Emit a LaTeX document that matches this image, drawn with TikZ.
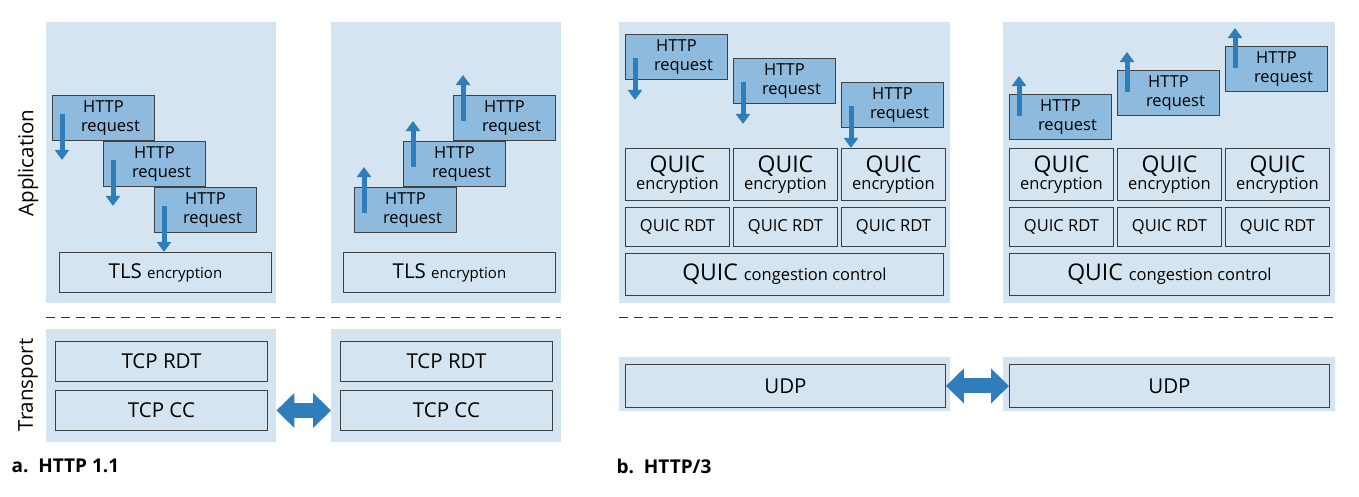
\documentclass[tikz,border=0pt]{standalone}
\usepackage{fontspec}
\setmainfont{Open Sans}
\usetikzlibrary{arrows.meta,calc}
\definecolor{panelbg}{HTML}{D4E4F0}
\definecolor{reqbg}{HTML}{8DBADD}
\definecolor{arrowblue}{HTML}{2F7DBA}
\tikzset{
  panel/.style={fill=panelbg, draw=none, anchor=north west, inner sep=0},
  layer/.style={draw=black!75, line width=0.9pt, fill=panelbg, anchor=north west, inner sep=0, align=center},
  req/.style={draw=black!75, line width=0.9pt, fill=reqbg, anchor=north west, inner sep=0,
    minimum width=102pt, minimum height=45pt, align=center, font=\fontsize{16.5}{19}\selectfont},
  quic/.style={layer, minimum width=104pt, minimum height=52pt, font=\fontsize{23}{21}\selectfont},
  rdt/.style={layer, minimum width=104pt, minimum height=39pt, font=\fontsize{16.5}{18}\selectfont},
  big/.style={layer, font=\fontsize{20.5}{22}\selectfont},
  flow/.style={arrowblue, line width=5pt, -{Triangle[width=14pt,length=10pt]}},
  link/.style={arrowblue, line width=15pt, {Triangle[width=34pt,length=18pt]}-{Triangle[width=34pt,length=18pt]}},
  sep/.style={dashed, dash pattern=on 9pt off 6pt, line width=1pt, black!80}
}
\newcommand{\reqtext}{HTTP\\\hspace*{14pt}request}
\begin{document}
\begin{tikzpicture}[x=1pt,y=-1pt]
  \useasboundingbox (0,0) rectangle (1359,496);

  % panels
  \node[panel, minimum width=230pt, minimum height=281pt] (appa) at (46,22) {};
  \node[panel, minimum width=230pt, minimum height=281pt] (appb) at (331,22) {};
  \node[panel, minimum width=230pt, minimum height=113pt] (tra) at (46,329) {};
  \node[panel, minimum width=230pt, minimum height=113pt] (trb) at (331,329) {};
  \node[panel, minimum width=331pt, minimum height=281pt] (appc) at (619,22) {};
  \node[panel, minimum width=332pt, minimum height=281pt] (appd) at (1003,22) {};
  \node[panel, minimum width=331pt, minimum height=54pt] (trc) at (619,357) {};
  \node[panel, minimum width=332pt, minimum height=54pt] (trd) at (1003,357) {};

  % separators
  \coordinate (sa1) at (46,317); \coordinate (sa2) at (561,317);
  \coordinate (sb1) at (619,317); \coordinate (sb2) at (1335,317);
  \draw[sep] (sa1) -- (sa2);
  \draw[sep] (sb1) -- (sb2);

  % side labels
  \node[rotate=90, font=\fontsize{20.5}{22}\selectfont] (lapp) at (28,163) {Application};
  \node[rotate=90, font=\fontsize{20.5}{22}\selectfont] (ltr) at (28,385) {Transport};
  \node[anchor=west, font=\fontsize{19}{21}\selectfont\bfseries] (capa) at (8,466) {a.\ \ HTTP 1.1};
  \node[anchor=west, font=\fontsize{19}{21}\selectfont\bfseries] (capb) at (613,466) {b.\ \ HTTP/3};

  % HTTP 1.1, client side
  \node[big, minimum width=212pt, minimum height=40pt] (tlsa) at (59,252) {TLS {\fontsize{15}{16}\selectfont encryption}};
  \node[big, minimum width=212pt, minimum height=40pt] (rdta) at (55,341) {TCP RDT};
  \node[big, minimum width=212pt, minimum height=40pt] (cca) at (55,390) {TCP CC};
  \node[req] (ra1) at (52,95) {\reqtext};
  \node[req] (ra2) at (103,141) {\reqtext};
  \node[req] (ra3) at (154,187) {\reqtext};
  \foreach \r in {ra1,ra2,ra3}
    \draw[flow] ($(\r.north west)+(10,19)$) -- ($(\r.south west)+(10,19)$);

  % HTTP 1.1, server side
  \node[big, minimum width=212pt, minimum height=40pt] (tlsb) at (343,252) {TLS {\fontsize{15}{16}\selectfont encryption}};
  \node[big, minimum width=212pt, minimum height=40pt] (rdtb) at (340,341) {TCP RDT};
  \node[big, minimum width=212pt, minimum height=40pt] (ccb) at (340,390) {TCP CC};
  \node[req] (rb1) at (354,187) {\reqtext};
  \node[req] (rb2) at (403,141) {\reqtext};
  \node[req] (rb3) at (453,95) {\reqtext};
  \foreach \r in {rb1,rb2,rb3}
    \draw[flow] ($(\r.south west)+(10,-20)$) -- ($(\r.north west)+(10,-20)$);

  \draw[link] (tra.east |- cca) -- (trb.west |- ccb);

  % HTTP/3, client side
  \node[req] (rc1) at (625,34) {\reqtext};
  \node[req] (rc2) at (733,58) {\reqtext};
  \node[req] (rc3) at (841,82) {\reqtext};
  \foreach \r in {rc1,rc2,rc3}
    \draw[flow] ($(\r.north west)+(10,24)$) -- ($(\r.south west)+(10,20)$);
  \foreach \i/\x in {1/625,2/733,3/841} {
    \node[quic] (qc\i) at (\x,148) {QUIC\\[-4pt]{\fontsize{16.5}{18}\selectfont encryption}};
    \node[rdt] (dc\i) at (\x,207) {QUIC RDT};
  }
  \node[layer, minimum width=318pt, minimum height=42pt, font=\fontsize{23}{21}\selectfont] (ccc) at (625,253)
    {QUIC {\fontsize{16.5}{18}\selectfont congestion control}};
  \node[big, minimum width=320pt, minimum height=43pt] (udpc) at (625,364) {UDP};

  % HTTP/3, server side
  \node[req] (rd1) at (1009,94) {\reqtext};
  \node[req] (rd2) at (1117,70) {\reqtext};
  \node[req] (rd3) at (1225,46) {\reqtext};
  \foreach \r in {rd1,rd2,rd3}
    \draw[flow] ($(\r.north west)+(10,22)$) -- ($(\r.north west)+(10,-18)$);
  \foreach \i/\x in {1/1009,2/1117,3/1225} {
    \node[quic] (qd\i) at (\x,148) {QUIC\\[-4pt]{\fontsize{16.5}{18}\selectfont encryption}};
    \node[rdt] (dd\i) at (\x,207) {QUIC RDT};
  }
  \node[layer, minimum width=320pt, minimum height=42pt, font=\fontsize{23}{21}\selectfont] (ccd) at (1009,253)
    {QUIC {\fontsize{16.5}{18}\selectfont congestion control}};
  \node[big, minimum width=320pt, minimum height=43pt] (udpd) at (1009,364) {UDP};

  \draw[link] (udpc) -- (udpd);
\end{tikzpicture}
\end{document}
